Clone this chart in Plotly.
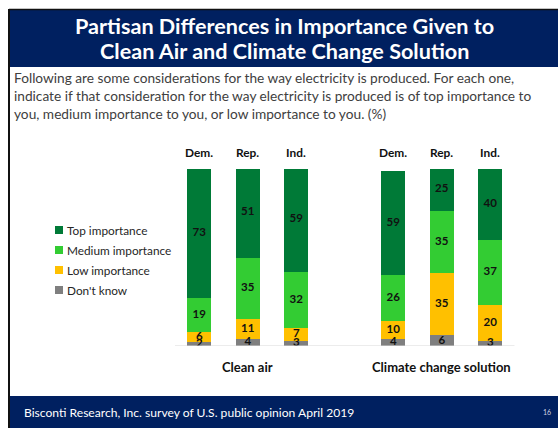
import plotly.graph_objects as go

# ---- data ----
parties = ["Dem.", "Rep.", "Ind.", "Dem.", "Rep.", "Ind."]
groups = ["Clean air", "Climate change solution"]
series_names = ["Don't know", "Low importance", "Medium importance", "Top importance"]
dont_know = [2, 4, 3, 4, 6, 3]
low = [6, 11, 7, 10, 35, 20]
medium = [19, 35, 32, 26, 35, 37]
top = [73, 51, 59, 59, 25, 40]
colors = ["#7F7F7F", "#FFC000", "#33CC33", "#007A37"]

title_lines = ["Partisan Differences in Importance Given to",
               "Clean Air and Climate Change Solution"]
subtitle_lines = [
    "Following are some considerations for the way electricity is produced. For each one,",
    "indicate if that consideration for the way electricity is produced is of top importance to",
    "you, medium importance to you, or low importance to you. (%)",
]
footer = "Bisconti Research, Inc. survey of U.S. public opinion April 2019"
page_no = "16"

W, H = 558, 428
FONT = "Lato"
xpos = [0, 1, 2, 4, 5, 6]
values = [dont_know, low, medium, top]

fig = go.Figure()
for name, vals, col in zip(series_names, values, colors):
    fig.add_trace(go.Bar(x=xpos, y=vals, name=name, marker=dict(color=col, line=dict(width=0)),
                         width=0.5, showlegend=False, hoverinfo="skip"))

# data labels at segment midpoints
lx, ly, lt = [], [], []
for i, x in enumerate(xpos):
    base = 0
    for vals in values:
        v = vals[i]
        lx.append(x)
        ly.append(base + v / 2)
        lt.append(str(v))
        base += v
fig.add_trace(go.Scatter(x=lx, y=ly, text=lt, mode="text", showlegend=False,
                         textfont=dict(family=FONT, size=11.5, color="#111111", weight="bold"),
                         hoverinfo="skip"))

xd0, xd1 = 175 / W, 514.5 / W
yd0, yd1 = (H - 346) / H, (H - 169) / H

shapes = []
annotations = []
# slide frame
shapes.append(dict(type="rect", xref="paper", yref="paper", x0=10 / W, x1=1, y0=(H - 67) / H, y1=(H - 10) / H,
                   fillcolor="#002060", line=dict(width=0), layer="below"))
shapes.append(dict(type="rect", xref="paper", yref="paper", x0=10 / W, x1=1, y0=0, y1=(H - 396) / H,
                   fillcolor="#002060", line=dict(width=0), layer="below"))
shapes.append(dict(type="line", xref="paper", yref="paper", x0=9 / W, x1=9 / W, y0=0, y1=(H - 9) / H,
                   line=dict(color="#111111", width=2)))
shapes.append(dict(type="line", xref="paper", yref="paper", x0=9 / W, x1=1, y0=(H - 9.5) / H, y1=(H - 9.5) / H,
                   line=dict(color="#111111", width=1.5)))

# title
for i, line in enumerate(title_lines):
    annotations.append(dict(text=f"<b>{line}</b>", xref="paper", yref="paper", x=284 / W, y=(H - (26 + i * 24.5)) / H,
                            xanchor="center", yanchor="middle", showarrow=False,
                            font=dict(family=FONT, size=21.6, color="white")))
# subtitle
for i, line in enumerate(subtitle_lines):
    annotations.append(dict(text=line, xref="paper", yref="paper", x=12 / W, y=(H - (77 + i * 18.5)) / H,
                            xanchor="left", yanchor="middle", showarrow=False,
                            font=dict(family=FONT, size=13.7, color="#404040")))
# footer
annotations.append(dict(text=footer, xref="paper", yref="paper", x=22 / W, y=(H - 412) / H,
                        xanchor="left", yanchor="middle", showarrow=False,
                        font=dict(family=FONT, size=12.1, color="white")))
annotations.append(dict(text=page_no, xref="paper", yref="paper", x=553 / W, y=(H - 412) / H,
                        xanchor="right", yanchor="middle", showarrow=False,
                        font=dict(family=FONT, size=7, color="#D0D0E0")))

# party labels above bars
for x, p in zip(xpos, parties):
    annotations.append(dict(text=f"<b>{p}</b>", x=x, xref="x", yref="paper", y=(H - 153) / H,
                            xanchor="center", yanchor="middle", showarrow=False,
                            font=dict(family=FONT, size=11.9, color="#111111")))
# group labels
for gx, g in zip([1, 5], groups):
    annotations.append(dict(text=f"<b>{g}</b>", x=gx, xref="x", yref="paper", y=(H - 367) / H,
                            xanchor="center", yanchor="middle", showarrow=False,
                            font=dict(family=FONT, size=13, color="#111111")))

# custom legend
leg_order = ["Top importance", "Medium importance", "Low importance", "Don't know"]
for i, name in enumerate(leg_order):
    col = colors[series_names.index(name)]
    yc = 230 + i * 20
    shapes.append(dict(type="rect", xref="paper", yref="paper", x0=55 / W, x1=63 / W,
                       y0=(H - yc - 4) / H, y1=(H - yc + 4) / H, fillcolor=col, line=dict(width=0)))
    annotations.append(dict(text=name, xref="paper", yref="paper", x=65 / W, y=(H - yc) / H,
                            xanchor="left", yanchor="middle", showarrow=False,
                            font=dict(family=FONT, size=11.8, color="#262626")))

fig.update_layout(
    width=W, height=H,
    margin=dict(l=0, r=0, t=0, b=0),
    paper_bgcolor="white", plot_bgcolor="rgba(0,0,0,0)",
    barmode="stack", bargap=0,
    showlegend=False,
    xaxis=dict(domain=[xd0, xd1], range=[-0.5, 6.5], showticklabels=False, showgrid=False,
               zeroline=False, showline=False, fixedrange=True),
    yaxis=dict(domain=[yd0, yd1], range=[0, 100], showticklabels=False, showgrid=False,
               zeroline=False, showline=False, fixedrange=True),
    shapes=shapes + [dict(type="line", xref="paper", yref="y", x0=xd0, x1=xd1, y0=0, y1=0,
                          line=dict(color="#D9D9D9", width=1))],
    annotations=annotations,
)

fig.write_html("out.html", config={"displayModeBar": False},
               post_script="document.body.style.margin='0px';document.body.style.overflow='hidden';")
